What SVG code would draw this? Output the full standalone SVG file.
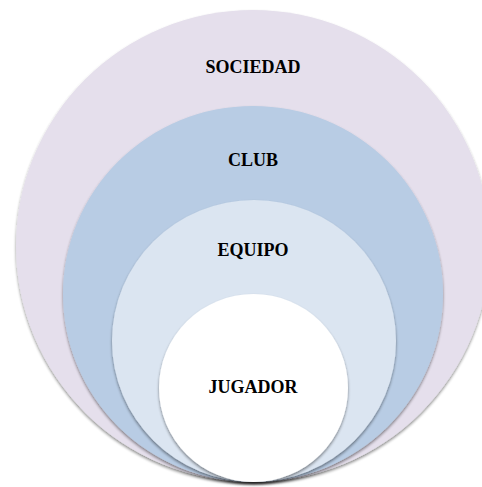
<svg xmlns="http://www.w3.org/2000/svg" width="482" height="487" viewBox="0 0 482 487">
<style>
.lbl{font-family:"Liberation Serif","Times New Roman",serif;font-weight:bold;font-size:18px;fill:#000;text-anchor:middle}
.c{filter:url(#sh)}
</style>
<defs>
<filter id="sh" x="-10%" y="-10%" width="120%" height="125%">
<feGaussianBlur in="SourceAlpha" stdDeviation="1.5"/>
<feOffset dx="0" dy="1.5" result="b"/>
<feComponentTransfer><feFuncA type="linear" slope="0.45"/></feComponentTransfer>
<feMerge><feMergeNode/><feMergeNode in="SourceGraphic"/></feMerge>
</filter>
</defs>
<rect width="482" height="487" fill="#fff"/>
<g id="sociedad">
<ellipse class="c" cx="253" cy="246" rx="237" ry="236" fill="#E5DFEC"/>
<text class="lbl" x="253" y="73">SOCIEDAD</text>
</g>
<g id="club">
<ellipse class="c" cx="253" cy="294" rx="190" ry="188" fill="#B8CCE4"/>
<text class="lbl" x="253" y="166">CLUB</text>
</g>
<g id="equipo">
<ellipse class="c" cx="254" cy="341" rx="142" ry="141" fill="#DBE5F1"/>
<text class="lbl" x="253" y="256">EQUIPO</text>
</g>
<g id="jugador">
<ellipse class="c" cx="253.5" cy="388" rx="94.5" ry="94" fill="#FFFFFF"/>
<text class="lbl" x="253" y="393">JUGADOR</text>
</g>
<g id="connectors"/>
</svg>
